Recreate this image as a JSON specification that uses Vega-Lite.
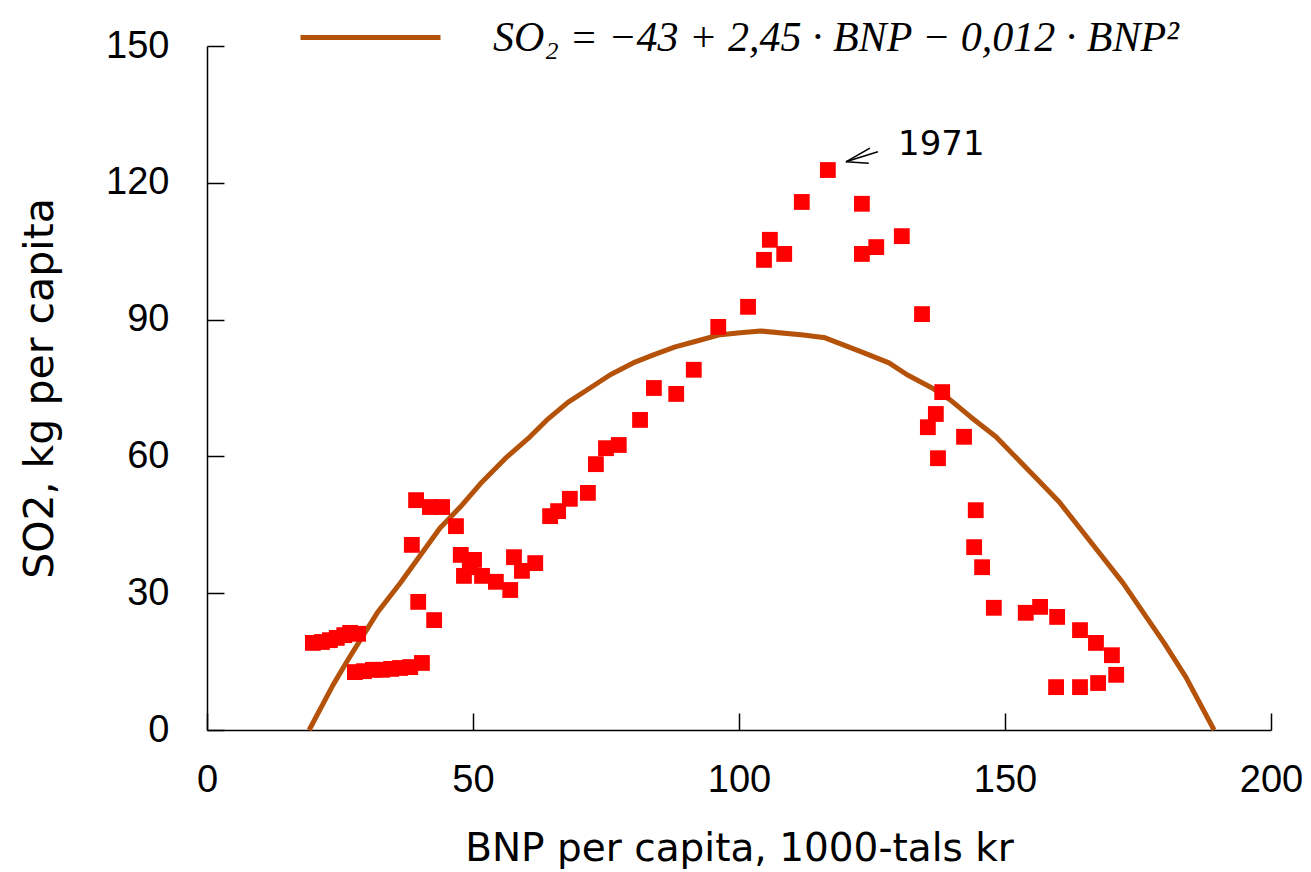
{
  "$schema": "https://vega.github.io/schema/vega-lite/v6.json",
  "autosize": {"type": "none"},
  "width": 1064,
  "height": 684,
  "padding": {"left": 207, "top": 46, "right": 40, "bottom": 142},
  "background": "white",
  "config": {"view": {"stroke": null}},
  "datasets": {
    "pts": [
      {"BNP": 19.9, "SO2": 19.1}, {"BNP": 21.6, "SO2": 19.3}, {"BNP": 23.1, "SO2": 19.7}, {"BNP": 24.4, "SO2": 20.2},
      {"BNP": 25.8, "SO2": 20.8}, {"BNP": 26.9, "SO2": 21.3}, {"BNP": 28.4, "SO2": 21.1},
      {"BNP": 27.8, "SO2": 12.7}, {"BNP": 29.5, "SO2": 12.9}, {"BNP": 31.2, "SO2": 13.2}, {"BNP": 32.9, "SO2": 13.2},
      {"BNP": 34.6, "SO2": 13.4}, {"BNP": 36.3, "SO2": 13.6}, {"BNP": 38.2, "SO2": 13.8}, {"BNP": 40.4, "SO2": 14.7},
      {"BNP": 39.3, "SO2": 50.4}, {"BNP": 41.9, "SO2": 48.9}, {"BNP": 44.2, "SO2": 48.9}, {"BNP": 46.8, "SO2": 44.7},
      {"BNP": 38.5, "SO2": 40.6}, {"BNP": 39.7, "SO2": 28.1}, {"BNP": 42.7, "SO2": 24.1},
      {"BNP": 47.7, "SO2": 38.4}, {"BNP": 50.2, "SO2": 37.3}, {"BNP": 49.4, "SO2": 35.7}, {"BNP": 48.3, "SO2": 33.8},
      {"BNP": 51.7, "SO2": 33.8}, {"BNP": 54.3, "SO2": 32.5}, {"BNP": 57.0, "SO2": 30.7},
      {"BNP": 57.7, "SO2": 37.9}, {"BNP": 59.2, "SO2": 34.9}, {"BNP": 61.7, "SO2": 36.6},
      {"BNP": 64.5, "SO2": 46.9}, {"BNP": 66.0, "SO2": 48.0}, {"BNP": 68.2, "SO2": 50.7}, {"BNP": 71.6, "SO2": 52.0},
      {"BNP": 73.1, "SO2": 58.3}, {"BNP": 75.0, "SO2": 61.8}, {"BNP": 77.4, "SO2": 62.5}, {"BNP": 81.4, "SO2": 68.0},
      {"BNP": 84.0, "SO2": 75.0}, {"BNP": 88.2, "SO2": 73.7}, {"BNP": 91.5, "SO2": 79.0}, {"BNP": 96.1, "SO2": 88.4},
      {"BNP": 101.7, "SO2": 92.8}, {"BNP": 104.7, "SO2": 103.1}, {"BNP": 105.8, "SO2": 107.5}, {"BNP": 108.5, "SO2": 104.4},
      {"BNP": 111.8, "SO2": 115.8}, {"BNP": 116.7, "SO2": 122.8}, {"BNP": 123.1, "SO2": 115.4}, {"BNP": 123.1, "SO2": 104.4},
      {"BNP": 125.8, "SO2": 105.9}, {"BNP": 130.6, "SO2": 108.3}, {"BNP": 134.4, "SO2": 91.2}, {"BNP": 138.2, "SO2": 74.1},
      {"BNP": 137.0, "SO2": 69.3}, {"BNP": 135.5, "SO2": 66.4}, {"BNP": 142.3, "SO2": 64.3}, {"BNP": 137.4, "SO2": 59.6},
      {"BNP": 144.5, "SO2": 48.2}, {"BNP": 144.2, "SO2": 40.1}, {"BNP": 145.7, "SO2": 35.7}, {"BNP": 147.9, "SO2": 26.8},
      {"BNP": 153.9, "SO2": 25.7}, {"BNP": 156.6, "SO2": 27.0}, {"BNP": 159.8, "SO2": 24.8}, {"BNP": 164.1, "SO2": 21.9},
      {"BNP": 167.1, "SO2": 19.1}, {"BNP": 170.1, "SO2": 16.4}, {"BNP": 170.9, "SO2": 12.1}, {"BNP": 167.5, "SO2": 10.3},
      {"BNP": 164.1, "SO2": 9.4}, {"BNP": 159.6, "SO2": 9.4}
    ],
    "fit": [
      {"BNP": 19.2, "SO2": 0, "series": "SO₂ = −43 + 2,45 · BNP − 0,012 · BNP²"},
      {"BNP": 23.7, "SO2": 9.9, "series": "SO₂ = −43 + 2,45 · BNP − 0,012 · BNP²"},
      {"BNP": 26.5, "SO2": 15.4, "series": "SO₂ = −43 + 2,45 · BNP − 0,012 · BNP²"},
      {"BNP": 32.0, "SO2": 25.7, "series": "SO₂ = −43 + 2,45 · BNP − 0,012 · BNP²"},
      {"BNP": 36.3, "SO2": 32.2, "series": "SO₂ = −43 + 2,45 · BNP − 0,012 · BNP²"},
      {"BNP": 43.8, "SO2": 44.3, "series": "SO₂ = −43 + 2,45 · BNP − 0,012 · BNP²"},
      {"BNP": 47.6, "SO2": 48.9, "series": "SO₂ = −43 + 2,45 · BNP − 0,012 · BNP²"},
      {"BNP": 51.7, "SO2": 54.4, "series": "SO₂ = −43 + 2,45 · BNP − 0,012 · BNP²"},
      {"BNP": 56.4, "SO2": 59.9, "series": "SO₂ = −43 + 2,45 · BNP − 0,012 · BNP²"},
      {"BNP": 60.7, "SO2": 64.3, "series": "SO₂ = −43 + 2,45 · BNP − 0,012 · BNP²"},
      {"BNP": 63.9, "SO2": 68.0, "series": "SO₂ = −43 + 2,45 · BNP − 0,012 · BNP²"},
      {"BNP": 67.9, "SO2": 71.9, "series": "SO₂ = −43 + 2,45 · BNP − 0,012 · BNP²"},
      {"BNP": 72.0, "SO2": 75.0, "series": "SO₂ = −43 + 2,45 · BNP − 0,012 · BNP²"},
      {"BNP": 75.8, "SO2": 77.9, "series": "SO₂ = −43 + 2,45 · BNP − 0,012 · BNP²"},
      {"BNP": 80.1, "SO2": 80.5, "series": "SO₂ = −43 + 2,45 · BNP − 0,012 · BNP²"},
      {"BNP": 83.8, "SO2": 82.2, "series": "SO₂ = −43 + 2,45 · BNP − 0,012 · BNP²"},
      {"BNP": 88.0, "SO2": 84.0, "series": "SO₂ = −43 + 2,45 · BNP − 0,012 · BNP²"},
      {"BNP": 92.1, "SO2": 85.3, "series": "SO₂ = −43 + 2,45 · BNP − 0,012 · BNP²"},
      {"BNP": 96.1, "SO2": 86.6, "series": "SO₂ = −43 + 2,45 · BNP − 0,012 · BNP²"},
      {"BNP": 100.2, "SO2": 87.1, "series": "SO₂ = −43 + 2,45 · BNP − 0,012 · BNP²"},
      {"BNP": 104.1, "SO2": 87.5, "series": "SO₂ = −43 + 2,45 · BNP − 0,012 · BNP²"},
      {"BNP": 112.1, "SO2": 86.6, "series": "SO₂ = −43 + 2,45 · BNP − 0,012 · BNP²"},
      {"BNP": 116.2, "SO2": 86.0, "series": "SO₂ = −43 + 2,45 · BNP − 0,012 · BNP²"},
      {"BNP": 123.5, "SO2": 82.7, "series": "SO₂ = −43 + 2,45 · BNP − 0,012 · BNP²"},
      {"BNP": 128.2, "SO2": 80.5, "series": "SO₂ = −43 + 2,45 · BNP − 0,012 · BNP²"},
      {"BNP": 131.6, "SO2": 77.9, "series": "SO₂ = −43 + 2,45 · BNP − 0,012 · BNP²"},
      {"BNP": 136.3, "SO2": 75.0, "series": "SO₂ = −43 + 2,45 · BNP − 0,012 · BNP²"},
      {"BNP": 139.7, "SO2": 72.4, "series": "SO₂ = −43 + 2,45 · BNP − 0,012 · BNP²"},
      {"BNP": 143.6, "SO2": 68.6, "series": "SO₂ = −43 + 2,45 · BNP − 0,012 · BNP²"},
      {"BNP": 148.3, "SO2": 64.3, "series": "SO₂ = −43 + 2,45 · BNP − 0,012 · BNP²"},
      {"BNP": 155.8, "SO2": 55.3, "series": "SO₂ = −43 + 2,45 · BNP − 0,012 · BNP²"},
      {"BNP": 160.2, "SO2": 50.0, "series": "SO₂ = −43 + 2,45 · BNP − 0,012 · BNP²"},
      {"BNP": 163.9, "SO2": 44.5, "series": "SO₂ = −43 + 2,45 · BNP − 0,012 · BNP²"},
      {"BNP": 172.2, "SO2": 32.2, "series": "SO₂ = −43 + 2,45 · BNP − 0,012 · BNP²"},
      {"BNP": 179.9, "SO2": 19.1, "series": "SO₂ = −43 + 2,45 · BNP − 0,012 · BNP²"},
      {"BNP": 184.0, "SO2": 11.6, "series": "SO₂ = −43 + 2,45 · BNP − 0,012 · BNP²"},
      {"BNP": 189.3, "SO2": 0, "series": "SO₂ = −43 + 2,45 · BNP − 0,012 · BNP²"}
    ],
    "arrow": [
      {"x": 126.1, "y": 126.8, "x2": 120.1, "y2": 124.6},
      {"x": 124.6, "y": 127.6, "x2": 120.1, "y2": 124.6},
      {"x": 124.4, "y": 124.3, "x2": 120.1, "y2": 124.6}
    ],
    "note": [{"x": 129.9, "y": 128.2, "label": "1971"}]
  },
  "layer": [
    {
      "data": {"name": "fit"},
      "mark": {"type": "line", "strokeWidth": 5, "strokeJoin": "round"},
      "encoding": {
        "x": {
          "field": "BNP", "type": "quantitative",
          "scale": {"domain": [0, 200], "nice": false, "zero": false},
          "axis": {
            "values": [0, 50, 100, 150, 200],
            "title": "BNP per capita, 1000-tals kr",
            "titleFont": "DejaVu Sans", "titleFontSize": 39, "titleFontWeight": "normal", "titleColor": "black",
            "titlePadding": 30,
            "labelFont": "Liberation Sans", "labelFontSize": 38, "labelColor": "black",
            "labelPadding": 48, "labelFlush": false, "labelOverlap": false,
            "tickSize": -17, "tickColor": "black", "tickWidth": 1.5,
            "domainColor": "black", "domainWidth": 1.5, "grid": false
          }
        },
        "y": {
          "field": "SO2", "type": "quantitative",
          "scale": {"domain": [0, 150], "nice": false, "zero": false},
          "axis": {
            "values": [0, 30, 60, 90, 120, 150],
            "title": "SO2, kg per capita",
            "titleFont": "DejaVu Sans", "titleFontSize": 41, "titleFontWeight": "normal", "titleColor": "black",
            "titlePadding": 44,
            "labelFont": "Liberation Sans", "labelFontSize": 38, "labelColor": "black",
            "labelPadding": 55, "labelFlush": false, "labelOverlap": false,
            "tickSize": -17, "tickColor": "black", "tickWidth": 1.5,
            "domainColor": "black", "domainWidth": 1.5, "grid": false
          }
        },
        "color": {
          "field": "series", "type": "nominal",
          "scale": {"range": ["#B4520A"]},
          "legend": {
            "title": null,
            "orient": "none", "legendX": 91, "legendY": -81,
            "symbolType": "stroke", "symbolSize": 19600, "symbolStrokeWidth": 5,
            "symbolStrokeColor": "#B4520A",
            "labelFont": "Liberation Serif", "labelFontStyle": "italic", "labelFontSize": 42,
            "labelColor": "black", "labelOffset": 50, "labelLimit": 0
          }
        }
      }
    },
    {
      "data": {"name": "pts"},
      "mark": {"type": "square", "size": 250, "filled": true, "color": "#FF0000", "opacity": 1},
      "encoding": {
        "x": {"field": "BNP", "type": "quantitative"},
        "y": {"field": "SO2", "type": "quantitative"}
      }
    },
    {
      "data": {"name": "arrow"},
      "mark": {"type": "rule", "color": "black", "strokeWidth": 1.6},
      "encoding": {
        "x": {"field": "x", "type": "quantitative"},
        "y": {"field": "y", "type": "quantitative"},
        "x2": {"field": "x2"},
        "y2": {"field": "y2"}
      }
    },
    {
      "data": {"name": "note"},
      "mark": {"type": "text", "align": "left", "baseline": "middle", "font": "DejaVu Sans", "fontSize": 34, "color": "black"},
      "encoding": {
        "x": {"field": "x", "type": "quantitative"},
        "y": {"field": "y", "type": "quantitative"},
        "text": {"field": "label"}
      }
    }
  ]
}
